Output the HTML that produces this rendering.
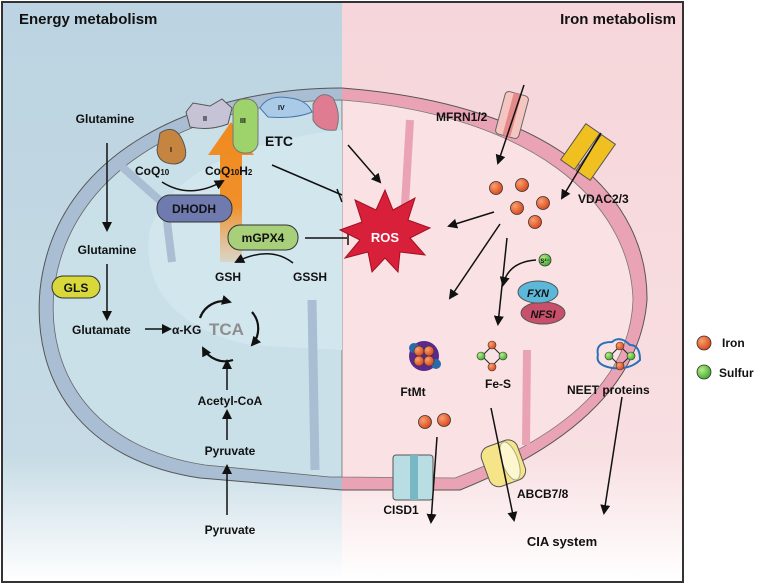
<!DOCTYPE html>
<html><head><meta charset="utf-8"><style>
html,body{margin:0;padding:0;background:#fff;}
svg{display:block;}
text{font-family:"Liberation Sans",sans-serif;font-weight:bold;fill:#111;}
</style></head><body>
<svg width="762" height="584" viewBox="0 0 762 584" xmlns="http://www.w3.org/2000/svg">
<defs>
<linearGradient id="fadeB" x1="0" y1="0" x2="0" y2="1">
<stop offset="0" stop-color="#bcd4e1"/><stop offset="0.78" stop-color="#c6dbe5"/><stop offset="1" stop-color="#ffffff"/></linearGradient>
<linearGradient id="fadeP" x1="0" y1="0" x2="0" y2="1">
<stop offset="0" stop-color="#f6d6da"/><stop offset="0.78" stop-color="#f8dfe2"/><stop offset="1" stop-color="#ffffff"/></linearGradient>
<clipPath id="cl"><rect x="0" y="0" width="342" height="584"/></clipPath>
<clipPath id="cr"><rect x="342" y="0" width="420" height="584"/></clipPath>
<marker id="ah" markerWidth="10" markerHeight="10" refX="8" refY="5" orient="auto" markerUnits="userSpaceOnUse"><path d="M0,0 L10,5 L0,10 Z" fill="#111"/></marker>
<radialGradient id="fe" cx="0.35" cy="0.35" r="0.7"><stop offset="0" stop-color="#f9a070"/><stop offset="1" stop-color="#d9461a"/></radialGradient>
<radialGradient id="su" cx="0.35" cy="0.35" r="0.7"><stop offset="0" stop-color="#b8ec8a"/><stop offset="1" stop-color="#3fa92e"/></radialGradient>
<linearGradient id="or" x1="0" y1="1" x2="0" y2="0"><stop offset="0" stop-color="#f0a050" stop-opacity="0.25"/><stop offset="0.4" stop-color="#f0902a"/><stop offset="1" stop-color="#f08a20"/></linearGradient>
</defs>
<rect x="2" y="2" width="340" height="580" fill="url(#fadeB)"/>
<rect x="342" y="2" width="341" height="580" fill="url(#fadeP)"/>
<rect x="2" y="2" width="681" height="580" fill="none" stroke="#333" stroke-width="2"/>

<!-- mitochondrion -->
<g clip-path="url(#cl)">
<path d="M342,88 C200,88 55,150 40,290 C32,380 80,460 200,478 L342,490 L460,490 C560,450 640,390 647,300 C648,200 560,105 342,88 Z" fill="#a9bdd3" stroke="#555" stroke-width="1"/>
<path d="M342,100 C210,100 70,160 54,290 C46,375 95,448 205,465 L330,477 L342,477 Z" fill="#c9e0e9" stroke="#666" stroke-width="0.8"/>
<path d="M342,130 C250,140 170,170 150,230 C140,290 180,330 250,345 L342,350 Z" fill="#d2e6ee"/>
<path d="M120,165 L165,205 L172,262" stroke="#a9bdd3" stroke-width="8" fill="none"/>
<path d="M312,300 L315,470" stroke="#a9bdd3" stroke-width="9" fill="none"/>
</g>
<g clip-path="url(#cr)">
<path d="M342,88 C200,88 55,150 40,290 C32,380 80,460 200,478 L342,490 L460,490 C560,450 640,390 647,300 C648,200 560,105 342,88 Z" fill="#eaa3b5" stroke="#555" stroke-width="1"/>
<path d="M342,100 C530,115 630,200 633,300 C630,385 555,440 455,478 L342,477 Z" fill="#f9e1e4" stroke="#777" stroke-width="0.8"/>
<path d="M410,120 L405,205" stroke="#eaa3b5" stroke-width="8" fill="none"/>
<path d="M527,350 L526,445" stroke="#eaa3b5" stroke-width="8" fill="none"/>
</g>

<!-- orange arrow (behind text) -->
<path d="M220,262 L220,155 L208,155 L231,122 L254,155 L242,155 L242,262 Z" fill="url(#or)"/>

<text x="19" y="24" font-size="15">Energy metabolism</text>
<text x="676" y="24" font-size="15" text-anchor="end">Iron metabolism</text>

<!-- left pathway -->
<g font-size="12">
<text x="105" y="123" text-anchor="middle">Glutamine</text>
<text x="107" y="254" text-anchor="middle">Glutamine</text>
<text x="72" y="334">Glutamate</text>
<text x="172" y="334">α-KG</text>
<text x="230" y="405" text-anchor="middle">Acetyl-CoA</text>
<text x="230" y="455" text-anchor="middle">Pyruvate</text>
<text x="230" y="534" text-anchor="middle">Pyruvate</text>
<text x="228" y="281" text-anchor="middle">GSH</text>
<text x="310" y="281" text-anchor="middle">GSSH</text>
<text x="135" y="175">CoQ<tspan font-size="8">10</tspan></text>
<text x="205" y="175">CoQ<tspan font-size="8">10</tspan>H<tspan font-size="8">2</tspan></text>
</g>
<text x="209" y="335" font-size="17" style="fill:#8e8e8e">TCA</text>
<text x="265" y="146" font-size="14">ETC</text>
<g stroke="#111" stroke-width="1.5" fill="none">
<line x1="107" y1="143" x2="107" y2="230" marker-end="url(#ah)"/>
<line x1="107" y1="264" x2="107" y2="319" marker-end="url(#ah)"/>
<line x1="145" y1="329" x2="170" y2="329" marker-end="url(#ah)"/>
<line x1="227" y1="390" x2="227" y2="361" marker-end="url(#ah)"/>
<line x1="227" y1="440" x2="227" y2="411" marker-end="url(#ah)"/>
<line x1="227" y1="515" x2="227" y2="466" marker-end="url(#ah)"/>
<path d="M162,182 Q190,200 223,181" marker-end="url(#ah)"/>
<path d="M293,263 Q270,245 236,262" marker-end="url(#ah)"/>
<line x1="272" y1="165" x2="342" y2="195"/><line x1="337" y1="189" x2="342" y2="202"/>
<line x1="305" y1="238" x2="347" y2="238"/><line x1="348" y1="232" x2="348" y2="245"/>
<line x1="348" y1="145" x2="380" y2="182" marker-end="url(#ah)"/>
</g>
<!-- TCA cycle -->
<g stroke="#111" stroke-width="2.2" fill="none">
<path d="M200,318 A25,25 0 0 1 230,302" marker-end="url(#ah)"/>
<path d="M252,312 A25,25 0 0 1 252,345" marker-end="url(#ah)"/>
<path d="M233,360 A25,25 0 0 1 203,348" marker-end="url(#ah)"/>
</g>
<!-- ETC complexes -->
<path d="M160,133 Q176,122 184,144 Q190,162 175,164 Q158,164 157,150 Z" fill="#c58540" stroke="#555"/>
<path d="M186,112 L193,103 L210,106 L222,99 L232,108 L228,124 Q210,131 190,127 Z" fill="#c7c3d6" stroke="#555"/>
<rect x="233" y="99" width="25" height="54" rx="11" fill="#9ed26b" stroke="#777"/>
<path d="M260,108 Q268,94 290,98 Q307,100 312,112 Q296,119 268,117 Z" fill="#a9cbe8" stroke="#4878a8"/>
<path d="M313,104 Q321,89 333,98 Q342,115 336,130 Q319,132 313,120 Z" fill="#e07c92" stroke="#777"/>
<g style="font-family:'Liberation Serif',serif">
<text x="170" y="152" font-size="7">I</text><text x="203" y="121" font-size="7">II</text><text x="240" y="123" font-size="7">III</text><text x="278" y="110" font-size="7">IV</text></g>
<!-- pills -->
<rect x="157" y="195" width="75" height="27" rx="13" fill="#6f7aae" stroke="#333"/>
<text x="194" y="213" font-size="12" text-anchor="middle">DHODH</text>
<rect x="228" y="225" width="70" height="25" rx="12" fill="#a8cf7a" stroke="#333"/>
<text x="263" y="242" font-size="12" text-anchor="middle">mGPX4</text>
<rect x="52" y="276" width="48" height="22" rx="11" fill="#d8d83a" stroke="#333"/>
<text x="76" y="292" font-size="12" text-anchor="middle">GLS</text>

<!-- ROS -->
<polygon points="385,190 393,210 415,198 408,220 430,228 410,238 425,255 400,252 398,272 385,258 372,272 368,252 345,258 360,240 340,230 362,222 355,200 376,210" fill="#d9203a" stroke="#a01020"/>
<text x="385" y="242" font-size="13" text-anchor="middle" style="fill:#fff">ROS</text>

<!-- channels -->
<g transform="rotate(15 512 115)"><rect x="500" y="93" width="24" height="44" rx="4" fill="#f5c5c0" stroke="#666"/><rect x="508" y="93" width="8" height="44" fill="#e58a8a"/></g>
<g transform="rotate(35 588 152)"><rect x="570" y="130" width="17" height="44" fill="#f0c020" stroke="#555"/><rect x="589" y="130" width="17" height="44" fill="#f0c020" stroke="#555"/></g>
<rect x="393" y="455" width="40" height="45" rx="3" fill="#b8dde3" stroke="#555"/><rect x="410" y="455" width="8" height="45" fill="#78b8c4"/>
<g transform="rotate(-20 504 462)"><rect x="484" y="442" width="38" height="42" rx="10" fill="#f5e488" stroke="#555"/><ellipse cx="510" cy="463" rx="8" ry="20" fill="#fdf7cf" stroke="#aa8"/></g>

<!-- iron dots -->
<g fill="url(#fe)" stroke="#333" stroke-width="0.8">
<circle cx="496" cy="188" r="6.5"/><circle cx="522" cy="185" r="6.5"/><circle cx="517" cy="208" r="6.5"/><circle cx="543" cy="203" r="6.5"/><circle cx="535" cy="222" r="6.5"/>
<circle cx="425" cy="422" r="6.5"/><circle cx="444" cy="420" r="6.5"/>
<circle cx="704" cy="343" r="7"/>
</g>
<circle cx="704" cy="372" r="7" fill="url(#su)" stroke="#333" stroke-width="0.8"/>
<circle cx="545" cy="260" r="6" fill="url(#su)" stroke="#333" stroke-width="0.8"/>
<text x="545" y="263" font-size="6" text-anchor="middle">S²⁻</text>

<!-- right arrows -->
<g stroke="#111" stroke-width="1.5" fill="none">
<line x1="524" y1="85" x2="498" y2="163" marker-end="url(#ah)"/>
<line x1="601" y1="133" x2="562" y2="198" marker-end="url(#ah)"/>
<line x1="494" y1="212" x2="449" y2="226" marker-end="url(#ah)"/>
<line x1="500" y1="224" x2="450" y2="298" marker-end="url(#ah)"/>
<line x1="507" y1="238" x2="498" y2="324" marker-end="url(#ah)"/>
<path d="M536,260 Q508,262 503,285" marker-end="url(#ah)"/>
<line x1="437" y1="437" x2="431" y2="522" marker-end="url(#ah)"/>
<line x1="491" y1="408" x2="514" y2="520" marker-end="url(#ah)"/>
<line x1="622" y1="397" x2="604" y2="513" marker-end="url(#ah)"/>
</g>
<!-- FXN NFSI -->
<ellipse cx="543" cy="313" rx="22" ry="11" fill="#c8506a" stroke="#555"/>
<text x="543" y="318" font-size="11" text-anchor="middle" style="font-style:italic">NFSI</text>
<ellipse cx="538" cy="292" rx="20" ry="11" fill="#5bb8d8" stroke="#555"/>
<text x="538" y="297" font-size="11" text-anchor="middle" style="font-style:italic">FXN</text>

<!-- FtMt -->
<circle cx="424" cy="356" r="15" fill="#5a2a8a"/>
<circle cx="414" cy="348" r="5" fill="#2a6aaa"/><circle cx="436" cy="364" r="5" fill="#2a6aaa"/>
<g fill="url(#fe)" stroke="#333" stroke-width="0.6"><circle cx="419" cy="351" r="5"/><circle cx="429" cy="351" r="5"/><circle cx="419" cy="361" r="5"/><circle cx="429" cy="361" r="5"/></g>
<!-- Fe-S -->
<path d="M492,346 L502,356 L492,366 L482,356 Z" fill="none" stroke="#222"/>
<circle cx="492" cy="345" r="4" fill="url(#fe)" stroke="#333" stroke-width="0.6"/><circle cx="492" cy="367" r="4" fill="url(#fe)" stroke="#333" stroke-width="0.6"/>
<circle cx="481" cy="356" r="4" fill="url(#su)" stroke="#333" stroke-width="0.6"/><circle cx="503" cy="356" r="4" fill="url(#su)" stroke="#333" stroke-width="0.6"/>
<!-- NEET -->
<path d="M598,355 Q595,342 612,342 Q620,335 630,345 Q640,345 640,360 Q630,370 612,368 Q595,365 598,355" fill="none" stroke="#2a70b8" stroke-width="2"/>
<path d="M620,346 L630,356 L620,366 L610,356 Z" fill="none" stroke="#222"/>
<circle cx="620" cy="346" r="4" fill="url(#fe)" stroke="#333" stroke-width="0.6"/><circle cx="620" cy="366" r="4" fill="url(#fe)" stroke="#333" stroke-width="0.6"/>
<circle cx="609" cy="356" r="4" fill="url(#su)" stroke="#333" stroke-width="0.6"/><circle cx="631" cy="356" r="4" fill="url(#su)" stroke="#333" stroke-width="0.6"/>

<g font-size="12">
<text x="436" y="121">MFRN1/2</text>
<text x="578" y="203">VDAC2/3</text>
<text x="413" y="396" text-anchor="middle">FtMt</text>
<text x="498" y="388" text-anchor="middle">Fe-S</text>
<text x="567" y="394">NEET proteins</text>
<text x="401" y="514" text-anchor="middle">CISD1</text>
<text x="517" y="498">ABCB7/8</text>
<text x="562" y="546" text-anchor="middle" font-size="13">CIA system</text>
<text x="722" y="347">Iron</text>
<text x="719" y="377">Sulfur</text>
</g>
</svg>
</body></html>
